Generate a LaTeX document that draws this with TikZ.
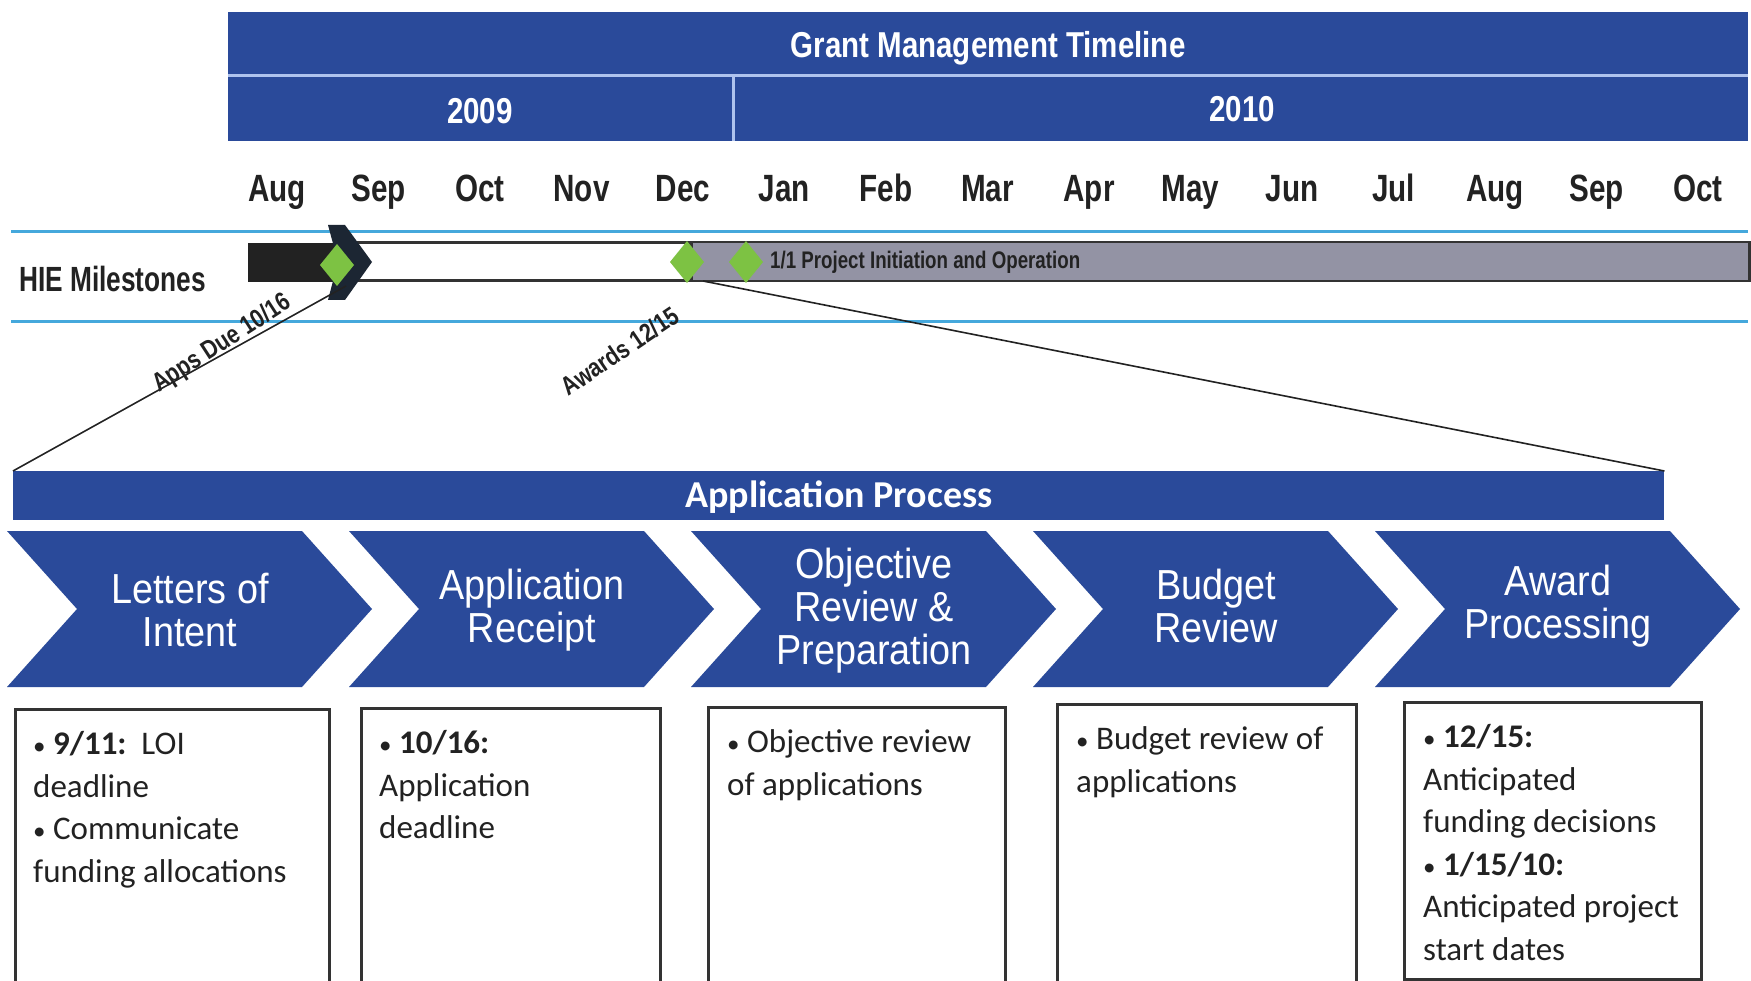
\documentclass[tikz,border=0pt]{standalone}
\usepackage{fontspec}
\setmainfont{Liberation Sans}
\newfontfamily\narrowfont[FakeStretch=0.82]{Liberation Sans}
\newfontfamily\monthfont[FakeStretch=0.78]{Liberation Sans}
\newfontfamily\hiefont[FakeStretch=0.75]{Liberation Sans}
\newfontfamily\chevfont[FakeStretch=0.9]{Liberation Sans}
\newfontfamily\calfont{Carlito}
\newcommand{\smbul}{{\fontsize{25}{25}\selectfont •}}
\definecolor{hdrblue}{HTML}{2A4A9A}
\definecolor{lineblue}{HTML}{45A8DC}
\definecolor{sepblue}{HTML}{AFC3EE}
\definecolor{msgray}{HTML}{9393A4}
\definecolor{msgreen}{HTML}{7DC243}
\definecolor{darkk}{HTML}{222222}
\definecolor{boxgray}{HTML}{333333}
\definecolor{arrowblk}{HTML}{1C2633}
\begin{document}
\begin{tikzpicture}[x=1pt,y=-1pt,
  hdrtext/.style={text=white, font=\narrowfont\bfseries\fontsize{36}{40}\selectfont, inner sep=0, anchor=base},
  month/.style={text=darkk, font=\monthfont\bfseries\fontsize{38}{40}\selectfont, inner sep=0, anchor=base},
  chevtext/.style={text=white, font=\chevfont\fontsize{42}{43}\selectfont, align=center, inner sep=0},
  chevshape/.style={fill=hdrblue},
  infobox/.style={draw=boxgray, line width=3pt, inner sep=0, anchor=north west},
  infotext/.style={font=\calfont\fontsize{33}{42.5}\selectfont, align=left, inner sep=0, anchor=north west, text=darkk},
  diag/.style={text=darkk, font=\narrowfont\bfseries\fontsize{26}{28}\selectfont, inner sep=0},
  milestone/.style={fill=msgreen},
  connector/.style={draw=darkk, line width=1.6pt}
]
\useasboundingbox (0,0) rectangle (1751,981);
\fill[white] (0,0) rectangle (1751,981);
\begin{scope}
\clip (0,0) rectangle (1751,981);

% ---- header ----
\fill[hdrblue] (228,12) rectangle (1748,141);
\draw[sepblue, line width=3pt] (228,76) -- (1748,76);
\draw[sepblue, line width=3pt] (733,76) -- (733,141);
\node[hdrtext] (title) at (988,58) {Grant Management Timeline};
\node[hdrtext] (y2009) at (480,124) {2009};
\node[hdrtext] (y2010) at (1242,122) {2010};

% ---- months ----
\foreach \m [count=\i from 0] in {Aug,Sep,Oct,Nov,Dec,Jan,Feb,Mar,Apr,May,Jun,Jul,Aug,Sep,Oct}
  \node[month] (m\i) at (277+101.5*\i,201.5) {\m};

% ---- milestone band ----
\draw[lineblue, line width=3pt] (11,232) -- (1748,232);
\draw[lineblue, line width=3pt] (11,322) -- (1748,322);
\node[text=darkk, font=\hiefont\bfseries\fontsize{35}{38}\selectfont, inner sep=0, anchor=base west] (hie) at (19,291.5) {HIE Milestones};

\draw[boxgray, line width=3pt, fill=white] (346,243) rectangle (690,281);
\fill[darkk] (248,243) rectangle (346,282);
\node[draw=boxgray, fill=msgray, line width=2.5pt, minimum width=1058pt, minimum height=39pt, anchor=north west, inner sep=0] (gbar) at (690,241) {};
\fill[arrowblk] (328,225) -- (345,225) -- (372,262) -- (345,300) -- (328,300) -- (338,262) -- cycle;
\coordinate (d1) at (337,265);
\coordinate (d2) at (687,262);
\coordinate (d3) at (746,262);
\foreach \d in {d1,d2,d3}
  \fill[milestone] (\d) ++(0,-21) -- ++(17,21) -- ++(-17,21) -- ++(-17,-21) -- cycle;
\coordinate (a1) at (346,286);
\coordinate (a2) at (703,281);
\node[text=darkk, font=\monthfont\bfseries\fontsize{24}{26}\selectfont, inner sep=0, anchor=base west] (proj) at (770,268.5) {1/1 Project Initiation and Operation};

% ---- application process bar ----
\node[fill=hdrblue, minimum width=1651pt, minimum height=49pt, anchor=north west, inner sep=0] (ap) at (13,471) {};
\node[text=white, font=\calfont\bfseries\fontsize{38}{40}\selectfont, inner sep=0, anchor=base] (aplabel) at (839,507) {Application Process};

% ---- connectors ----
\draw[connector] (a1) -- (ap.north west);
\draw[connector] (a2) -- (ap.north east);
\node[diag, rotate=33] (appsdue) at (222,344) {Apps Due 10/16};
\node[diag, rotate=34] (awards) at (620,351) {Awards 12/15};

% ---- chevrons ----
\foreach \L/\yc/\t [count=\i] in {7/610/{Letters of\\Intent}, 349/610/{Application\\Receipt}, 691/611/{Objective\\Review \&\\Preparation}, 1033/606/{Budget\\Review}, 1375/606/{Award\\Processing}} {
  \fill[chevshape] (\L,531) -- ++(295,0) -- ++(70,78) -- ++(-70,78) -- ++(-295,0) -- ++(70,-78) -- cycle;
  \node[chevtext] (c\i) at (\L+183,\yc) {\t};
}

% ---- info boxes ----
\node[infobox, minimum width=314pt, minimum height=300pt] (b1) at (14,708) {};
\node[infobox, minimum width=299pt, minimum height=300pt] (b2) at (360,707) {};
\node[infobox, minimum width=297pt, minimum height=300pt] (b3) at (707,706) {};
\node[infobox, minimum width=299pt, minimum height=300pt] (b4) at (1056,703) {};
\node[infobox, minimum width=297pt, minimum height=277pt] (b5) at (1403,701) {};

\node[infotext] (t1) at ([xshift=19pt,yshift=-20.5pt]b1.north west) {\rule{0pt}{26pt}\smbul\ \textbf{9/11:}\ \ LOI\\deadline\\\smbul\ Communicate\\funding allocations};
\node[infotext] (t2) at ([xshift=19pt,yshift=-20.5pt]b2.north west) {\rule{0pt}{26pt}\smbul\ \textbf{10/16:}\\Application\\deadline};
\node[infotext] (t3) at ([xshift=20pt,yshift=-20.5pt]b3.north west) {\rule{0pt}{26pt}\smbul\ Objective review\\of applications};
\node[infotext] (t4) at ([xshift=20pt,yshift=-20.5pt]b4.north west) {\rule{0pt}{26pt}\smbul\ Budget review of\\applications};
\node[infotext] (t5) at ([xshift=20pt,yshift=-20.5pt]b5.north west) {\rule{0pt}{26pt}\smbul\ \textbf{12/15:}\\Anticipated\\funding decisions\\\smbul\ \textbf{1/15/10:}\\Anticipated project\\start dates};
\end{scope}
\end{tikzpicture}
\end{document}
